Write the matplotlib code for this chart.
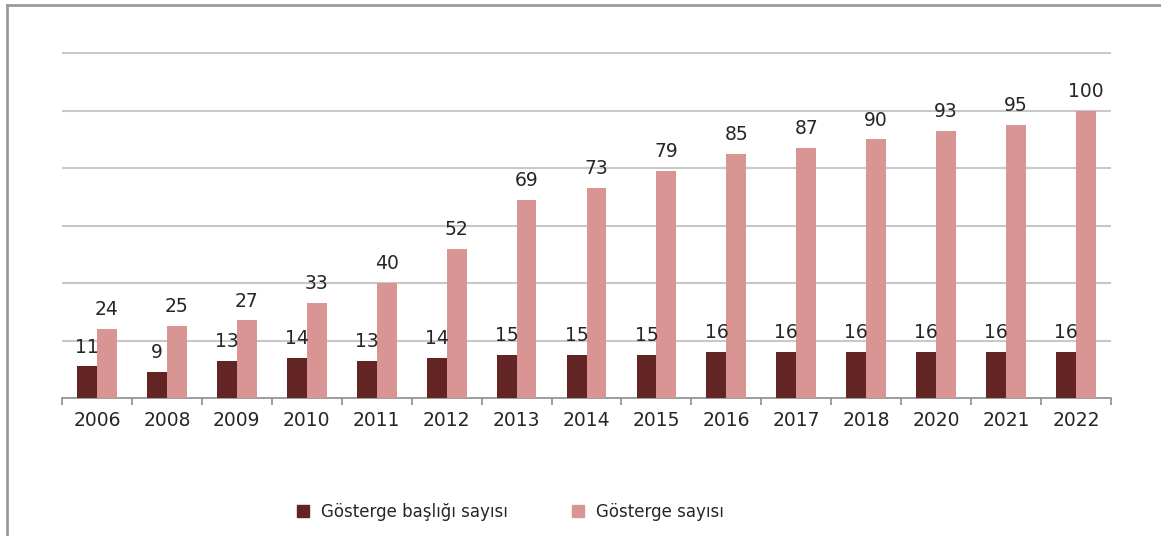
import numpy as np
import matplotlib
matplotlib.use("Agg")
import matplotlib.pyplot as plt
from matplotlib.lines import Line2D

years = ["2006", "2008", "2009", "2010", "2011", "2012", "2013", "2014",
         "2015", "2016", "2017", "2018", "2020", "2021", "2022"]
baslik_sayisi = [11, 9, 13, 14, 13, 14, 15, 15, 15, 16, 16, 16, 16, 16, 16]
gosterge_sayisi = [24, 25, 27, 33, 40, 52, 69, 73, 79, 85, 87, 90, 93, 95, 100]

DARK = "#632523"
PINK = "#d99594"
TEXT = "#262626"

fig = plt.figure(figsize=(11.61, 5.36), dpi=100)
ax = fig.add_axes([62 / 1161, 1 - 398 / 536, 1049 / 1161, 346 / 536])

x = np.arange(len(years))
w = 0.285
b1 = ax.bar(x - w / 2, baslik_sayisi, w, color=DARK, label="Gösterge başlığı sayısı", zorder=3)
b2 = ax.bar(x + w / 2, gosterge_sayisi, w, color=PINK, label="Gösterge sayısı", zorder=3)

for bars, vals in [(b1, baslik_sayisi), (b2, gosterge_sayisi)]:
    for bar, v in zip(bars, vals):
        ax.annotate(str(v), (bar.get_x() + bar.get_width() / 2, v),
                    xytext=(0, 7), textcoords="offset points",
                    ha="center", va="bottom", fontsize=13.5, color=TEXT)

ax.set_xlim(-0.5, len(years) - 0.5)
ax.set_ylim(0, 120.4)
ax.set_yticks(np.arange(20, 121, 20))
ax.yaxis.grid(True, color="#c8c8c8", linewidth=1.5, zorder=0)
ax.tick_params(axis="y", left=False, labelleft=False)

# category labels centred, tick marks on the boundaries
ax.set_xticks(x)
ax.set_xticklabels(years, fontsize=13.5, color=TEXT)
ax.tick_params(axis="x", which="major", length=0, pad=9)
ax.set_xticks(np.arange(-0.5, len(years)), minor=True)
ax.tick_params(axis="x", which="minor", length=5, width=1.2, color="#8c8c8c", direction="out")

for s in ["left", "right", "top"]:
    ax.spines[s].set_visible(False)
ax.spines["bottom"].set_color("#8c8c8c")
ax.spines["bottom"].set_linewidth(1.2)

handles = [Line2D([], [], marker="s", linestyle="none", markersize=9, color=DARK),
           Line2D([], [], marker="s", linestyle="none", markersize=9, color=PINK)]
fig.legend(handles, ["Gösterge başlığı sayısı", "Gösterge sayısı"],
           loc="center", bbox_to_anchor=(505 / 1161, 1 - 512 / 536), ncol=2,
           frameon=False, fontsize=12, columnspacing=3.2, handletextpad=0.1,
           labelcolor=TEXT)

# frame edges along the top and left
fig.add_artist(Line2D([7 / 1161, 7 / 1161], [0, 1 - 5 / 536], transform=fig.transFigure,
                      color="#9a9a9a", linewidth=2))
fig.add_artist(Line2D([7 / 1161, 1], [1 - 5 / 536, 1 - 5 / 536], transform=fig.transFigure,
                      color="#9a9a9a", linewidth=2))

fig.savefig("out.png", dpi=100)
